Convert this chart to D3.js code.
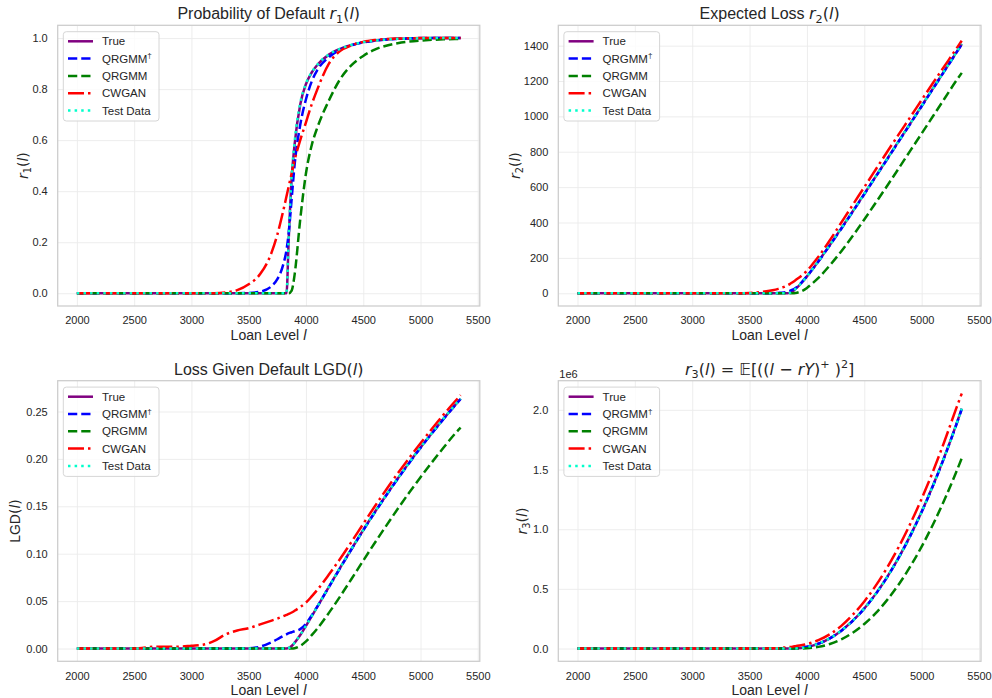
<!DOCTYPE html>
<html>
<head>
<meta charset="utf-8">
<script src="https://cdn.jsdelivr.net/npm/d3@7"></script>
<style>
  html, body { margin: 0; padding: 0; background: #fff; }
  svg { display: block; }
  text { font-family: "Liberation Sans", Arial, sans-serif; fill: #262626; }
</style>
</head>
<body>
<svg id="chart" width="992" height="698"></svg>
<script>
// ---------------- DATA ----------------
const loanLevels = [2000, 2500, 2700, 2900, 3000, 3100, 3200, 3300, 3400, 3500, 3600, 3700, 3750, 3800, 3830, 3850, 3875, 3900, 3950, 4000, 4050, 4100, 4200, 4300, 4400, 4500, 4600, 4700, 4800, 4900, 5000, 5100, 5200, 5300, 5350];

const xTicks = [2000, 2500, 3000, 3500, 4000, 4500, 5000, 5500];
const r1Ticks = [0, 0.2, 0.4, 0.6, 0.8, 1.0];
const r2Ticks = [0, 200, 400, 600, 800, 1000, 1200, 1400];
const lgdTicks = [0, 0.05, 0.10, 0.15, 0.20, 0.25];
const r3Ticks = [0, 0.5, 1.0, 1.5, 2.0];   // units of 1e6

const seriesNames = ["True", "QRGMM\u2020", "QRGMM", "CWGAN", "Test Data"];

// Probability of default r1(l)
const r1True  = [0,0,0,0,0,0,0,0,0,0,0,0,0,0,0, 0.22,0.45,0.58,0.74,0.82,0.865,0.895,0.935,0.958,0.973,0.984,0.99,0.994,0.997,0.998,0.999,1,1,1,1];
const r1QrgmmDag = [0,0,0,0,0,0,0,0,0, 0.001,0.006,0.028,0.055,0.11,0.17,0.24,0.37,0.5,0.66,0.76,0.83,0.875,0.925,0.955,0.972,0.983,0.99,0.994,0.997,0.999,1,1,1,1,1];
const r1Qrgmm = [0,0,0,0,0,0,0,0,0,0,0,0,0,0,0,0, 0.01,0.07,0.29,0.47,0.58,0.65,0.755,0.84,0.895,0.93,0.955,0.97,0.98,0.986,0.99,0.993,0.995,0.996,0.996];
const r1Cwgan = [0,0,0,0,0,0,0, 0.003,0.012,0.035,0.075,0.16,0.23,0.32,0.38,0.42,0.47,0.52,0.6,0.67,0.74,0.8,0.9,0.95,0.972,0.985,0.992,0.996,0.998,0.999,1,1,1,1,1];
const r1Test  = [0,0,0,0,0,0,0,0,0,0,0,0,0,0,0, 0.23,0.46,0.59,0.745,0.822,0.866,0.896,0.936,0.958,0.974,0.984,0.99,0.994,0.997,0.998,0.999,1,1,1,1];

// Expected loss r2(l)
const r2True  = [0,0,0,0,0,0,0,0,0,0,0,0,0,0,0, 2.2,10.6,23.5,56.5,95.5,137.6,181.6,273,368,464,562,661,760,860,959,1059,1159,1259,1359,1409];
const r2QrgmmDag = [0,0,0,0,0,0,0,0,0,0,0, 0.8,2,5,9,13,20,30,59,96,137,180,271,365,462,560,659,758,858,957,1057,1157,1257,1357,1407];
const r2Qrgmm = [0,0,0,0,0,0,0,0,0,0,0,0,0,0,0,0,0, 1.3,11,30,57,87,158,238,325,417,512,608,706,805,903,1002,1101,1200,1246];
const r2Cwgan = [0,0,0,0,0,0,0,0,0, 2,7,17,25,36,45,52,62,74,98,127,165,206,300,400,500,600,700,800,898,995,1093,1190,1285,1380,1428];
const r2Test  = [0,0,0,0,0,0,0,0,0,0,0,0,0,0,0, 2.3,10.8,23.8,56.9,95.8,137.9,181.9,273.3,368.3,464.3,562.3,661.3,760.3,860.3,959.3,1059.3,1159.3,1259.3,1359.3,1409.3];

// Loss given default LGD(l)
const lgdTrue  = [0,0,0,0,0,0,0,0,0,0,0,0,0,0,0, 0.0006,0.0027,0.006,0.0143,0.0239,0.034,0.0443,0.065,0.0855,0.1055,0.125,0.1437,0.1617,0.1791,0.1958,0.2119,0.2273,0.2422,0.2565,0.2634];
const lgdQrgmmDag = [0,0,0,0,0,0,0,0,0, 0.0003,0.002,0.0068,0.0098,0.0132,0.015,0.0162,0.0172,0.0182,0.0205,0.0262,0.035,0.0445,0.0648,0.0852,0.1052,0.1247,0.1434,0.1614,0.1788,0.1955,0.2116,0.227,0.2419,0.2562,0.2631];
const lgdQrgmm = [0,0,0,0,0,0,0,0,0,0,0,0,0,0,0,0,0, 0.0003,0.0028,0.0075,0.0141,0.0212,0.0376,0.0553,0.0739,0.0927,0.1113,0.1294,0.1471,0.1643,0.1806,0.1965,0.2117,0.2264,0.2329];
const lgdCwgan = [0,0, 0.002,0.002,0.003,0.004,0.008,0.015,0.019,0.0215,0.0255,0.0295,0.0315,0.034,0.0355,0.0365,0.038,0.0398,0.0438,0.0485,0.055,0.062,0.078,0.095,0.113,0.1315,0.1498,0.1675,0.1845,0.2008,0.2165,0.2318,0.2465,0.2605,0.2672];
const lgdTest  = [0,0,0,0,0,0,0,0,0,0,0,0,0,0,0, 0.0006,0.0028,0.0061,0.0144,0.024,0.0341,0.0444,0.0651,0.0856,0.1056,0.1251,0.1438,0.1618,0.1792,0.1959,0.212,0.2274,0.2423,0.2566,0.2635];

// r3(l) = E[((l - rY)^+)^2], in units of 1e6
const r3True  = [0,0,0,0,0,0,0,0,0,0,0,0,0,0,0, 0.00004,0.0004,0.0012,0.0052,0.0128,0.0245,0.0404,0.0859,0.15,0.2332,0.3359,0.4582,0.6003,0.7623,0.9442,1.1461,1.368,1.6099,1.8717,2.0101];
const r3QrgmmDag = [0,0,0,0,0,0,0,0,0,0,0, 0.0001,0.0003,0.0005,0.0009,0.0012,0.002,0.0035,0.0075,0.015,0.026,0.041,0.0855,0.1495,0.2325,0.335,0.457,0.599,0.761,0.9425,1.1442,1.366,1.6075,1.869,2.007];
const r3Qrgmm = [0,0,0,0,0,0,0,0,0,0,0,0,0,0,0,0,0, 0.0001,0.0007,0.0027,0.007,0.014,0.038,0.077,0.133,0.206,0.297,0.408,0.537,0.686,0.854,1.042,1.249,1.475,1.596];
const r3Cwgan = [0,0,0,0,0,0,0,0,0,0, 0.0005,0.0015,0.003,0.008,0.011,0.013,0.016,0.02,0.028,0.038,0.052,0.07,0.12,0.19,0.283,0.395,0.527,0.679,0.851,1.043,1.255,1.487,1.739,2.008,2.1375];
const r3Test  = [0,0,0,0,0,0,0,0,0,0,0,0,0,0,0, 0.00005,0.0004,0.0012,0.0053,0.0129,0.0246,0.0405,0.086,0.1501,0.2333,0.336,0.4583,0.6004,0.7624,0.9443,1.1462,1.3681,1.61,1.8718,2.0102];

// ---------------- STYLE ----------------
const seriesStyles = [
  { color: "#800080", dash: null },
  { color: "#0000ff", dash: "9.25,4" },
  { color: "#008000", dash: "9.25,4" },
  { color: "#ff0000", dash: "16,4,2.5,4" },
  { color: "#00ffcc", dash: "2.5,4.1" }
];

const panels = [
  { left: 57.7, right: 479.8, top: 25.3, bottom: 306, yDomain: [-0.05, 1.05], yTicks: r1Ticks, fmt: d3.format(".1f"),
    data: [r1True, r1QrgmmDag, r1Qrgmm, r1Cwgan, r1Test],
    title: [{t: "Probability of Default "}, {t: "r", m: 1, it: 1}, {t: "1", m: 1, sub: 1}, {t: "(", m: 1}, {t: "l", m: 1, it: 1}, {t: ")", m: 1}],
    ylabel: [{t: "r", m: 1, it: 1}, {t: "1", m: 1, sub: 1}, {t: "(", m: 1}, {t: "l", m: 1, it: 1}, {t: ")", m: 1}],
    ylabelX: 23 },
  { left: 558.3, right: 981, top: 25.3, bottom: 306, yDomain: [-72, 1515], yTicks: r2Ticks, fmt: d3.format("d"),
    data: [r2True, r2QrgmmDag, r2Qrgmm, r2Cwgan, r2Test],
    title: [{t: "Expected Loss "}, {t: "r", m: 1, it: 1}, {t: "2", m: 1, sub: 1}, {t: "(", m: 1}, {t: "l", m: 1, it: 1}, {t: ")", m: 1}],
    ylabel: [{t: "r", m: 1, it: 1}, {t: "2", m: 1, sub: 1}, {t: "(", m: 1}, {t: "l", m: 1, it: 1}, {t: ")", m: 1}],
    ylabelX: 515 },
  { left: 57.7, right: 479.8, top: 380.7, bottom: 661.3, yDomain: [-0.01345, 0.28245], yTicks: lgdTicks, fmt: d3.format(".2f"),
    data: [lgdTrue, lgdQrgmmDag, lgdQrgmm, lgdCwgan, lgdTest],
    title: [{t: "Loss Given Default LGD"}, {t: "(", m: 1}, {t: "l", m: 1, it: 1}, {t: ")", m: 1}],
    ylabel: [{t: "LGD"}, {t: "(", m: 1}, {t: "l", m: 1, it: 1}, {t: ")", m: 1}],
    ylabelX: 15 },
  { left: 558.3, right: 981, top: 380.7, bottom: 661.3, yDomain: [-0.1069, 2.2444], yTicks: r3Ticks, fmt: d3.format(".1f"),
    data: [r3True, r3QrgmmDag, r3Qrgmm, r3Cwgan, r3Test],
    title: [{t: "r", m: 1, it: 1}, {t: "3", m: 1, sub: 1}, {t: "(", m: 1}, {t: "l", m: 1, it: 1}, {t: ") = ", m: 1},
            {t: "\uD835\uDD3C", m: 1}, {t: "[((", m: 1}, {t: "l", m: 1, it: 1}, {t: " \u2212 ", m: 1}, {t: "rY", m: 1, it: 1},
            {t: ")", m: 1}, {t: "+", m: 1, sup: 1}, {t: " )", m: 1}, {t: "2", m: 1, sup: 1}, {t: "]", m: 1}],
    ylabel: [{t: "r", m: 1, it: 1}, {t: "3", m: 1, sub: 1}, {t: "(", m: 1}, {t: "l", m: 1, it: 1}, {t: ")", m: 1}],
    ylabelX: 521.7, offsetText: "1e6" }
];

const svg = d3.select("#chart");

function richText(sel, segs, size) {
  let shift = 0;
  segs.forEach(s => {
    const ts = sel.append("tspan").text(s.t);
    if (s.m) ts.attr("font-family", "DejaVu Sans");
    if (s.it) ts.attr("font-style", "italic");
    let target = 0;
    if (s.sub) { ts.attr("font-size", size * 0.7); target = size * 0.22; }
    else if (s.sup) { ts.attr("font-size", size * 0.7); target = -size * 0.42; }
    if (target !== shift) { ts.attr("dy", target - shift); shift = target; }
  });
}

panels.forEach(p => {
  const x = d3.scaleLinear().domain([1832.5, 5517.5]).range([p.left, p.right]);
  const y = d3.scaleLinear().domain(p.yDomain).range([p.bottom, p.top]);
  const w = p.right - p.left, h = p.bottom - p.top;
  const g = svg.append("g");

  g.append("rect").attr("x", p.left).attr("y", p.top).attr("width", w).attr("height", h).attr("fill", "#fff");

  const gx = g.append("g").attr("transform", `translate(0,${p.bottom})`)
    .call(d3.axisBottom(x).tickValues(xTicks).tickSize(-h).tickFormat(""));
  const gy = g.append("g").attr("transform", `translate(${p.left},0)`)
    .call(d3.axisLeft(y).tickValues(p.yTicks).tickSize(-w).tickFormat(""));
  [gx, gy].forEach(a => {
    a.select(".domain").remove();
    a.selectAll("line").attr("stroke", "#ebebeb").attr("stroke-width", 0.9);
  });

  const ax = g.append("g").attr("transform", `translate(0,${p.bottom})`)
    .call(d3.axisBottom(x).tickValues(xTicks).tickSize(0).tickPadding(10.5).tickFormat(d3.format("d")));
  const ay = g.append("g").attr("transform", `translate(${p.left},0)`)
    .call(d3.axisLeft(y).tickValues(p.yTicks).tickSize(0).tickPadding(10).tickFormat(p.fmt));
  [ax, ay].forEach(a => {
    a.select(".domain").remove();
    a.selectAll("text").attr("font-size", 11).attr("font-family", "'Liberation Sans', Arial, sans-serif").attr("fill", "#262626");
  });

  const cid = "clip" + Math.round(p.left) + Math.round(p.top);
  svg.append("clipPath").attr("id", cid).append("rect")
    .attr("x", p.left).attr("y", p.top).attr("width", w).attr("height", h);

  const line = d3.line().x((d, i) => x(loanLevels[i])).y(d => y(d)).curve(d3.curveMonotoneX);
  const lg = g.append("g").attr("clip-path", `url(#${cid})`);
  p.data.forEach((arr, si) => {
    const st = seriesStyles[si];
    const path = lg.append("path").datum(arr).attr("d", line)
      .attr("fill", "none").attr("stroke", st.color).attr("stroke-width", 2.5)
      .attr("stroke-linejoin", "round");
    if (st.dash) path.attr("stroke-dasharray", st.dash);
  });

  g.append("rect").attr("x", p.left).attr("y", p.top).attr("width", w).attr("height", h)
    .attr("fill", "none").attr("stroke", "#cccccc").attr("stroke-width", 1.25);

  const tt = g.append("text").attr("x", (p.left + p.right) / 2).attr("y", p.top - 6)
    .attr("text-anchor", "middle").attr("font-size", 16);
  richText(tt, p.title, 16);

  const xl = g.append("text").attr("x", (p.left + p.right) / 2).attr("y", p.bottom + 34)
    .attr("text-anchor", "middle").attr("font-size", 14);
  richText(xl, [{t: "Loan Level "}, {t: "l", m: 1, it: 1}], 14);

  const cy = (p.top + p.bottom) / 2;
  const yl = g.append("text").attr("transform", `translate(${p.ylabelX + 5},${cy}) rotate(-90)`)
    .attr("text-anchor", "middle").attr("font-size", 14);
  richText(yl, p.ylabel, 14);

  if (p.offsetText) {
    g.append("text").attr("x", p.left + 1).attr("y", p.top - 3).attr("font-size", 11).text(p.offsetText);
  }

  const lx = p.left + 5.6, ly = p.top + 6.4;
  const leg = g.append("g");
  leg.append("rect").attr("x", lx).attr("y", ly).attr("width", 95.7).attr("height", 89.3)
    .attr("rx", 3).attr("fill", "#fff").attr("fill-opacity", 0.8).attr("stroke", "#d6d6d6").attr("stroke-width", 1);
  seriesNames.forEach((name, i) => {
    const st = seriesStyles[i];
    const yy = ly + 9.6 + i * 17.3;
    const ln = leg.append("line").attr("x1", lx + 4.7).attr("x2", lx + 29.7).attr("y1", yy).attr("y2", yy)
      .attr("stroke", st.color).attr("stroke-width", 2.5);
    if (st.dash) ln.attr("stroke-dasharray", st.dash);
    const tx = leg.append("text").attr("x", lx + 38.7).attr("y", yy + 4.1).attr("font-size", 11.5);
    if (name.endsWith("\u2020")) {
      tx.append("tspan").text("QRGMM");
      tx.append("tspan").text("\u2020").attr("font-size", 8).attr("dy", -4.5);
    } else {
      tx.text(name);
    }
  });
});
</script>
</body>
</html>
